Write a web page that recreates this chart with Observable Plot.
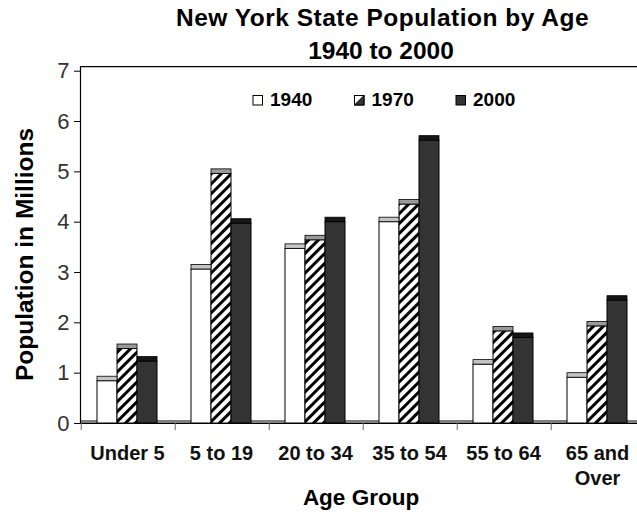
<!DOCTYPE html>
<html><head><meta charset="utf-8">
<script src="https://cdn.jsdelivr.net/npm/d3@7"></script>
<script src="https://cdn.jsdelivr.net/npm/@observablehq/plot@0.6"></script>
<style>
html,body{margin:0;padding:0;background:#fff;overflow:hidden;}
#chart{width:637px;height:523px;}
</style></head><body><div id="chart"></div>
<script>
const categories = ["Under 5","5 to 19","20 to 34","35 to 54","55 to 64","65 and Over"];
const tickLabels = ["Under 5","5 to 19","20 to 34","35 to 54","55 to 64","65 and\nOver"];
const years = ["1940","1970","2000"];
const pop1940 = [0.84, 3.06, 3.47, 4.00, 1.17, 0.91];
const pop1970 = [1.48, 4.96, 3.64, 4.35, 1.83, 1.93];
const pop2000 = [1.23, 3.97, 4.00, 5.62, 1.70, 2.44];
const yTicks = [0,1,2,3,4,5,6,7];
const titleLines = ["New York State Population by Age","1940 to 2000"];
const yLabel = "Population in Millions";
const xLabel = "Age Group";

const series = {"1940": pop1940, "1970": pop1970, "2000": pop2000};
const table = categories.flatMap((c,i)=> years.map(y=>({category:c, year:y, value: series[y][i]})));

const W=637, H=523, mL=78, mT=70.7, mB=100;
const facetW = 94.6;
const mR = W - mL - facetW*categories.length;
const step = facetW/(years.length + 1.5);
const barFill = ["#ffffff","url(#hatch)","#333333"];
const capFill = ["#c4c4c4","#9a9a9a","#151515"];
const font = "'Liberation Sans', Arial, sans-serif";
const depth = 4.5;

const barMarks = years.map((y,i)=>Plot.barY(table, {filter: d=>d.year===y, x:"year", y:"value", fill: barFill[i], stroke:"#000", strokeWidth:1}));
const capMarks = years.map((y,i)=>Plot.barY(table, {filter: d=>d.year===y, x:"year", y1:"value", y2:"value", insetTop:-depth, fill: capFill[i], stroke:"#000", strokeWidth:0.8}));

const plot = Plot.plot({
  width: W, height: H, marginLeft: mL, marginRight: mR, marginTop: mT, marginBottom: mB,
  style: {fontFamily: font, overflow: "hidden", background: "#fff"},
  facet: {data: table, x: "category"},
  fx: {domain: categories, padding: 0, label: null, axis: null},
  x: {domain: years, paddingInner: 0, paddingOuter: 0.75, label: null, axis: null},
  y: {domain: [0,7], label: null, axis: null},
  marks: [
    Plot.ruleY([0], {stroke: "#7f7f7f", strokeWidth: 3.6, dy: -1.8}),
    ...barMarks,
    ...capMarks,
    Plot.ruleY([0], {stroke:"#000", strokeWidth: 1.2}),
    Plot.ruleY([7], {stroke:"#000", strokeWidth: 1.2, dy: -depth}),
    Plot.frame({anchor:"left", facetAnchor:"left", insetTop:-depth, stroke:"#000", strokeWidth:1.2}),
    Plot.axisY({ticks: yTicks, tickFormat: d3.format("d"), tickSize:6, tickPadding:5, fontSize:22, fill:"#333", stroke:"#000", label:null}),
    Plot.axisX({ticks:[years[0]], tickSize:7, tickFormat:()=>"", dx:-1.25*step, stroke:"#666", label:null}),
    Plot.axisFx({anchor:"bottom", tickSize:0, tickPadding:18.5, fontSize:20, fontWeight:"bold", fill:"#111", lineHeight:1.25, tickFormat: c=>tickLabels[categories.indexOf(c)], label:null})
  ]
});

const svg = d3.select(plot);
const defs = svg.insert("defs", ":first-child");
const pat = defs.append("pattern").attr("id","hatch").attr("patternUnits","userSpaceOnUse")
  .attr("width",7).attr("height",7).attr("patternTransform","rotate(45)");
pat.append("rect").attr("width",7).attr("height",7).attr("fill","#fff");
pat.append("rect").attr("width",3).attr("height",7).attr("fill","#000");

const deco = svg.append("g").attr("font-family", font).attr("fill","#000").attr("font-weight","bold").attr("text-anchor","middle");
deco.append("text").attr("x",382.5).attr("y",26).attr("font-size",24.5).attr("letter-spacing",0.5).text(titleLines[0]);
deco.append("text").attr("x",381).attr("y",59).attr("font-size",24.5).text(titleLines[1]);
deco.append("text").attr("transform","translate(33,254.5) rotate(-90)").attr("font-size",24.5).text(yLabel);
deco.append("text").attr("x",361).attr("y",505).attr("font-size",22.5).text(xLabel);

const lg = svg.append("g").attr("font-family", font).attr("font-weight","bold").attr("font-size",19).attr("text-anchor","start");
years.forEach((y,i)=>{
  const x = 253 + i*101.5, yy = 95.5, s = 9.5;
  lg.append("rect").attr("x",x).attr("y",yy).attr("width",s).attr("height",s).attr("fill", i===2 ? "#333" : "#fff").attr("stroke","#000").attr("stroke-width",1);
  if (i===1) lg.append("path").attr("d",`M${x+s},${yy}L${x+s},${yy+s}L${x},${yy+s}Z`).attr("fill","#333").attr("stroke","#000").attr("stroke-width",1);
  lg.append("text").attr("x",x+17).attr("y",105.7).attr("fill","#000").text(y);
});

document.getElementById("chart").appendChild(plot);
</script></body></html>
